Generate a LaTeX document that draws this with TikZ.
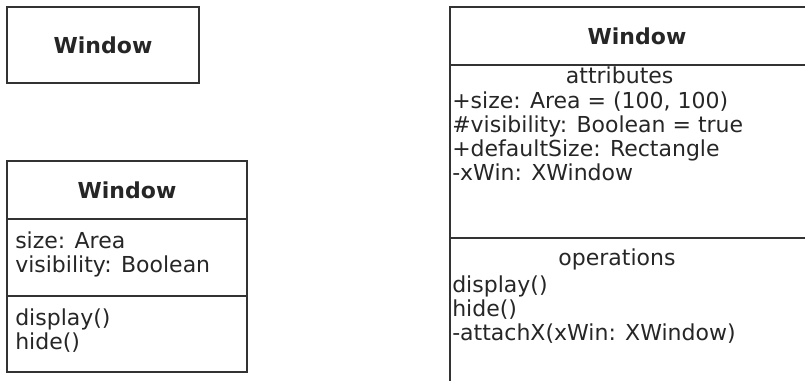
\documentclass[tikz,border=0pt]{standalone}
\usepackage{fontspec}
\setmainfont{DejaVu Sans}
\usetikzlibrary{positioning}

\begin{document}
\begin{tikzpicture}[x=0.75pt,y=-0.75pt,node distance=0pt,
  every node/.style={font=\fontsize{16.5}{18}\selectfont,text=black!85},
  part/.style={draw=black!80,line width=1.1pt,inner sep=0pt,outer sep=0pt},
  members/.style={inner sep=0pt,anchor=north west,align=left}]
\useasboundingbox (0,0) rectangle (805,381);
\clip (0,0) rectangle (805,381);
% class with its name only
\node[part,anchor=north west,minimum width=144pt,minimum height=57pt] (plainName) at (7,7) {\textbf{Window}};
% class with attributes and operations
\node[part,anchor=north west,minimum width=180pt,minimum height=43.5pt] (midName) at (7,161) {\textbf{Window}};
\node[part,minimum width=180pt,minimum height=57.75pt,below=of midName] (midAttr) {};
\node[part,minimum width=180pt,minimum height=57pt,below=of midAttr] (midOps) {};
\node[members] (midAttrList) at ([xshift=6pt,yshift=-9.5pt]midAttr.north west) {\strut size: Area\\visibility: Boolean};
\node[members] (midOpsList) at ([xshift=6pt,yshift=-9.5pt]midOps.north west) {\strut display()\\hide()};
% class with named compartments (runs off the page)
\node[part,anchor=north west,minimum width=280.5pt,minimum height=43.5pt] (fullName) at (450,7) {\textbf{Window}};
\node[part,minimum width=280.5pt,minimum height=129.75pt,below=of fullName] (fullAttr) {};
\node[part,minimum width=280.5pt,minimum height=120pt,below=of fullAttr] (fullOps) {};
\node[anchor=base] (fullAttrTitle) at ([xshift=-13pt,yshift=-14.25pt]fullAttr.north) {attributes};
\node[members] (fullAttrList) at ([xshift=1.5pt,yshift=-19.65pt]fullAttr.north west) {\strut +size: Area = (100, 100)\\\#visibility: Boolean = true\\+defaultSize: Rectangle\\-xWin: XWindow};
\node[anchor=base] (fullOpsTitle) at ([xshift=-15pt,yshift=-20.25pt]fullOps.north) {operations};
\node[members] (fullOpsList) at ([xshift=1.5pt,yshift=-27.9pt]fullOps.north west) {\strut display()\\hide()\\-attachX(xWin: XWindow)};
\end{tikzpicture}
\end{document}
